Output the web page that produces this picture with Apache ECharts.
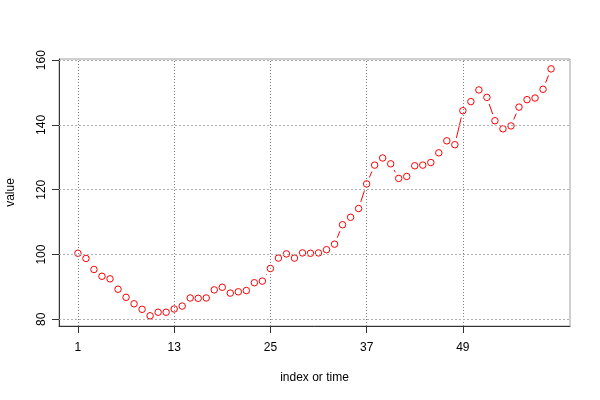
<!DOCTYPE html>
<html><head><meta charset="utf-8">
<script src="https://cdn.jsdelivr.net/npm/echarts@6/dist/echarts.min.js"></script>
<style>html,body{margin:0;padding:0;background:#fff}#c{width:600px;height:400px}</style>
</head><body><div id="c"></div>
<script>
var values = [100.4, 98.8, 95.4, 93.3, 92.5, 89.3, 86.8, 84.8, 83.1, 81.1,
  82.2, 82.2, 83.2, 84.1, 86.6, 86.5, 86.6, 89.1, 89.9, 88.1,
  88.5, 88.9, 91.3, 91.8, 95.7, 98.9, 100.2, 98.9, 100.5, 100.4,
  100.5, 101.5, 103.2, 109.2, 111.5, 114.2, 121.8, 127.6, 129.8, 128.0,
  123.5, 124.1, 127.4, 127.6, 128.4, 131.4, 135.1, 133.9, 144.4, 147.2,
  150.8, 148.5, 141.3, 138.8, 139.7, 145.5, 147.8, 148.3, 151.0, 157.3];
var xTicks = [1, 13, 25, 37, 49];
var yTicks = [80, 100, 120, 140, 160];

var pts = values.map(function (v, i) { return [i + 1, v]; });
var font = 'Liberation Sans, Arial, sans-serif';
var chart = echarts.init(document.getElementById('c'));
var GAP = 7;

chart.setOption({
  animation: false,
  backgroundColor: '#fff',
  grid: { left: 59, right: 30, top: 59, bottom: 74, outerBoundsMode: 'none', containLabel: false,
    show: true, borderColor: '#a0a0a0', borderWidth: 1, backgroundColor: 'transparent' },
  xAxis: {
    type: 'value', min: -1.36, max: 62.36,
    name: 'index or time', nameLocation: 'middle', nameGap: 46,
    nameTextStyle: { color: '#000', fontFamily: font, fontSize: 12 },
    axisLine: { show: true, onZero: false, lineStyle: { color: '#333', width: 1 } },
    axisTick: { show: true, customValues: xTicks, length: 7, inside: false, lineStyle: { color: '#333' } },
    axisLabel: { customValues: xTicks, color: '#000', fontFamily: font, fontSize: 12, margin: 16 },
    splitLine: { show: false }
  },
  yAxis: {
    type: 'value', min: 77.95, max: 160.35,
    name: 'value', nameLocation: 'middle', nameGap: 42, nameRotate: 90,
    nameTextStyle: { color: '#000', fontFamily: font, fontSize: 12 },
    axisLine: { show: true, onZero: false, lineStyle: { color: '#333', width: 1 } },
    axisTick: { show: true, customValues: yTicks, length: 7, lineStyle: { color: '#333' } },
    axisLabel: { customValues: yTicks, color: '#000', fontFamily: font, fontSize: 12, rotate: 90, margin: 11 },
    splitLine: { show: false }
  },
  series: [
    {
      type: 'line', data: [], z: 1, silent: true,
      markLine: {
        silent: true, symbol: ['none', 'none'], label: { show: false }, animation: false,
        data: xTicks.map(function (t) { return { xAxis: t, lineStyle: { color: '#808080', type: [1, 2], width: 1 } }; })
          .concat(yTicks.map(function (t) { return { yAxis: t, lineStyle: { color: '#b0b0b0', type: [2, 2], width: 1 } }; }))
      }
    },
    {
      type: 'custom', z: 2, silent: true,
      data: pts.slice(0, pts.length - 1),
      renderItem: function (params, api) {
        var i = params.dataIndex;
        var a = api.coord(pts[i]);
        var b = api.coord(pts[i + 1]);
        var dx = b[0] - a[0], dy = b[1] - a[1];
        var d = Math.sqrt(dx * dx + dy * dy);
        if (d <= 2 * GAP) return null;
        var ux = dx / d, uy = dy / d;
        return {
          type: 'line',
          shape: { x1: a[0] + ux * GAP, y1: a[1] + uy * GAP, x2: b[0] - ux * GAP, y2: b[1] - uy * GAP },
          style: { stroke: '#ff0000', lineWidth: 1 }
        };
      }
    },
    {
      type: 'scatter', z: 3, data: pts, symbol: 'circle', symbolSize: 6.5,
      itemStyle: { color: 'rgba(0,0,0,0)', borderColor: '#ff0000', borderWidth: 1, opacity: 1 }
    }
  ]
});
</script></body></html>
